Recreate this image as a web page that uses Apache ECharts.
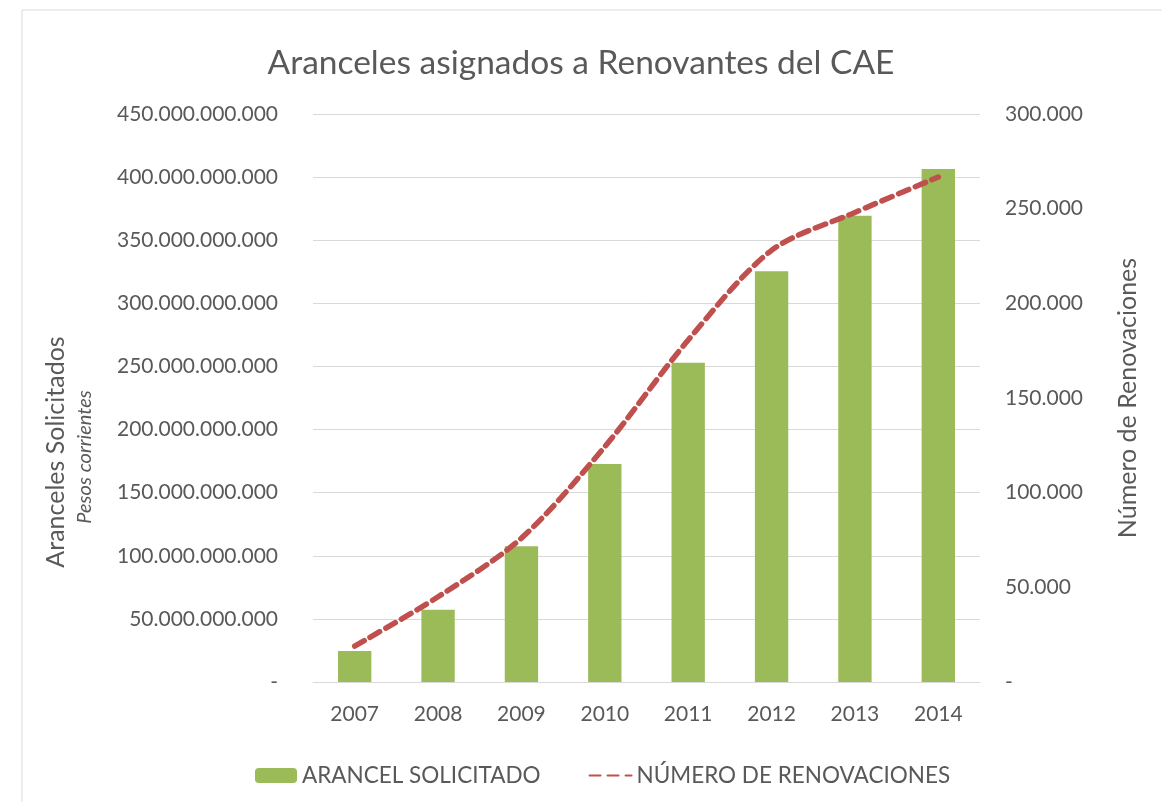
<!DOCTYPE html>
<html>
<head>
<meta charset="utf-8">
<script src="https://cdn.jsdelivr.net/npm/echarts@6/dist/echarts.min.js"></script>
<style>
  html, body { margin: 0; padding: 0; background: #fff; }
  #chart { width: 1162px; height: 802px; }
</style>
</head>
<body>
<div id="chart"></div>
<script>
// datos
var years = ['2007', '2008', '2009', '2010', '2011', '2012', '2013', '2014'];
var arancel = [24.6e9, 57.3e9, 107.5e9, 172.8e9, 253e9, 325.4e9, 369.4e9, 406.4e9];
var renovaciones = [19000, 45000, 76000, 124300, 180600, 228000, 248000, 266700];

var FONT = 'Lato';
var GRAY = '#595959';

function miles(v) {
    if (v === 0) return '-';
    return String(Math.round(v)).replace(/\B(?=(\d{3})+(?!\d))/g, '.');
}

var chart = echarts.init(document.getElementById('chart'));

var option = {
    animation: false,
    textStyle: { fontFamily: FONT, color: GRAY },
    title: {
        text: 'Aranceles asignados a Renovantes del CAE',
        left: 'center',
        top: 41,
        textStyle: { fontFamily: FONT, fontSize: 33.5, fontWeight: 'normal', color: GRAY }
    },
    grid: { left: 313, right: 182, top: 114, bottom: 120 },
    legend: {
        left: 250,
        top: 759,
        itemWidth: 42,
        itemHeight: 15,
        itemGap: 48,
        textStyle: { fontFamily: FONT, fontSize: 22.5, color: GRAY },
        data: [
            { name: 'ARANCEL SOLICITADO' },
            { name: 'NÚMERO DE RENOVACIONES', itemStyle: { opacity: 0 } }
        ]
    },
    xAxis: {
        type: 'category',
        data: years,
        axisLine: { lineStyle: { color: '#d9d9d9', width: 1 } },
        axisTick: { show: false },
        axisLabel: { fontFamily: FONT, fontSize: 21, color: GRAY, margin: 22 }
    },
    yAxis: [{
        type: 'value',
        min: 0, max: 450e9, interval: 50e9,
        axisLine: { show: false },
        axisTick: { show: false },
        splitLine: { lineStyle: { color: '#d9d9d9', width: 1 } },
        axisLabel: { fontFamily: FONT, fontSize: 21, color: GRAY, margin: 35, formatter: miles }
    }, {
        type: 'value',
        min: 0, max: 300000, interval: 50000,
        axisLine: { show: false },
        axisTick: { show: false },
        splitLine: { show: false },
        axisLabel: { fontFamily: FONT, fontSize: 21, color: GRAY, margin: 25, formatter: miles }
    }],
    graphic: [{
        type: 'rect',
        shape: { x: 22, y: 10, width: 1150, height: 800 },
        style: { fill: 'none', stroke: '#d9d9d9', lineWidth: 1 },
        silent: true
    }, {
        type: 'text',
        x: 56, y: 452,
        rotation: Math.PI / 2,
        style: {
            text: 'Aranceles Solicitados',
            fontFamily: FONT, fontSize: 25, fill: GRAY,
            align: 'center', verticalAlign: 'middle'
        }
    }, {
        type: 'text',
        x: 85, y: 457,
        rotation: Math.PI / 2,
        style: {
            text: 'Pesos corrientes',
            fontFamily: FONT, fontSize: 20, fontStyle: 'italic', fill: GRAY,
            align: 'center', verticalAlign: 'middle'
        }
    }, {
        type: 'text',
        x: 1128, y: 398,
        rotation: Math.PI / 2,
        style: {
            text: 'Número de Renovaciones',
            fontFamily: FONT, fontSize: 25, fill: GRAY,
            align: 'center', verticalAlign: 'middle'
        }
    }],
    series: [{
        name: 'ARANCEL SOLICITADO',
        type: 'bar',
        yAxisIndex: 0,
        barWidth: '40%',
        itemStyle: { color: '#9BBB59' },
        data: arancel
    }, {
        name: 'NÚMERO DE RENOVACIONES',
        type: 'line',
        yAxisIndex: 1,
        smooth: 0.3,
        symbol: 'none',
        itemStyle: { color: '#C0504D' },
        lineStyle: { color: '#C0504D', width: 5.5, type: [11, 7], cap: 'round' },
        data: renovaciones
    }]
};

chart.setOption(option);
</script>
</body>
</html>
